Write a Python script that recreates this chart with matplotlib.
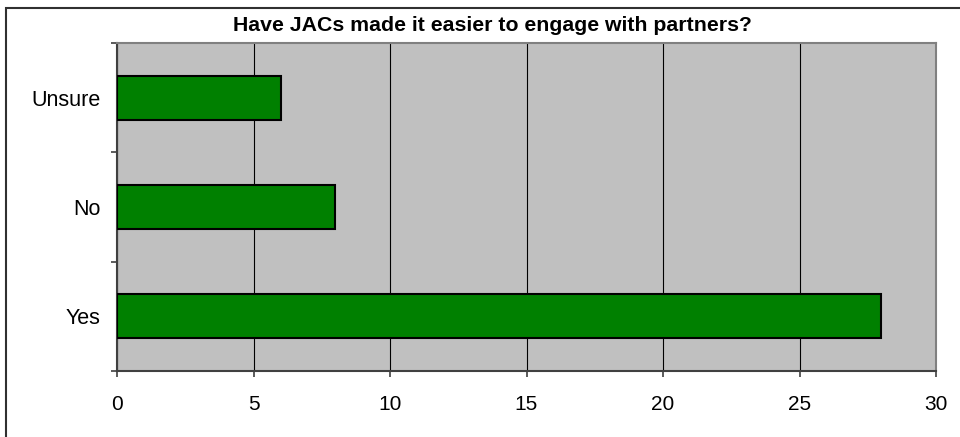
import numpy as np
import matplotlib
matplotlib.use('Agg')
import matplotlib.pyplot as plt
from matplotlib.patches import Rectangle

plt.rcParams['font.family'] = ['Liberation Sans', 'DejaVu Sans']

# survey answers, bottom to top as drawn
categories = ['Yes', 'No', 'Unsure']
counts = [28, 8, 6]
x_ticks = [0, 5, 10, 15, 20, 25, 30]
title = 'Have JACs made it easier to engage with partners?'

fig = plt.figure(figsize=(9.6, 4.37), dpi=100)
fig.patch.set_facecolor('white')

# outer chart frame (cut off on right/bottom like the original)
fig.patches.append(Rectangle((5.5 / 960, -0.5), 2.0, 1.5 - 7.5 / 437,
                             transform=fig.transFigure, fill=False,
                             edgecolor='#303030', linewidth=1.5, clip_on=False))

ax = fig.add_axes([117 / 960, 1 - 371 / 437, 819 / 960, 328 / 437])
ax.set_facecolor('#C0C0C0')

y = np.arange(len(categories))
ax.barh(y, counts, height=0.4, color='#008000', edgecolor='black',
        linewidth=1.5, zorder=3)

ax.set_xlim(0, 30)
ax.set_ylim(-0.5, len(categories) - 0.5)
ax.set_xticks(x_ticks)
ax.set_xticklabels([str(v) for v in x_ticks], fontsize=15)
ax.set_yticks(y)
ax.set_yticklabels(categories, fontsize=15.5)
ax.set_yticks(np.arange(-0.5, len(categories), 1.0), minor=True)

ax.xaxis.grid(True, color='black', linewidth=0.8, zorder=1)
ax.set_axisbelow(True)

ax.tick_params(axis='y', which='major', length=0, pad=12)
ax.tick_params(axis='y', which='minor', length=4.5, width=1.2,
               color='#404040', direction='out')
ax.tick_params(axis='x', which='major', length=4.5, width=1.2,
               color='#404040', direction='out', pad=13)

for side in ['left', 'bottom']:
    ax.spines[side].set_color('#404040')
    ax.spines[side].set_linewidth(1.5)
for side in ['top', 'right']:
    ax.spines[side].set_color('#808080')
    ax.spines[side].set_linewidth(1.5)

fig.text(492 / 960, 1 - 25.5 / 437, title, ha='center', va='center',
         fontsize=15.3, fontweight='bold')

fig.savefig('out.png', dpi=100, facecolor='white')
